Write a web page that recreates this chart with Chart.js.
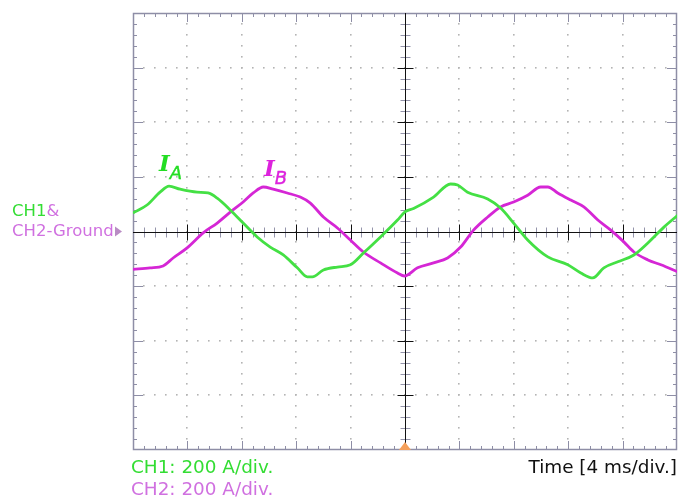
<!DOCTYPE html>
<html>
<head>
<meta charset="utf-8">
<script src="https://cdn.jsdelivr.net/npm/chart.js@4.4.1/dist/chart.umd.min.js"></script>
<style>
  body { margin: 0; background: #fff; }
  #wrap { position: relative; width: 678px; height: 499px; overflow: hidden; }
  .lbl { position: absolute; white-space: nowrap; font-family: "DejaVu Sans", sans-serif; }
  .big { font-family: "DejaVu Serif", serif; font-weight: bold; font-style: italic; }
  .sub { font-family: "DejaVu Sans", sans-serif; font-style: oblique; font-size: 18px; vertical-align: -8px; -webkit-text-stroke: 0.4px currentColor; }
</style>
</head>
<body>
<div id="wrap">
  <canvas id="scope" width="678" height="499"></canvas>
  <div class="lbl" style="left:12px;top:203px;font-size:16.5px;line-height:16.5px;"><span style="color:#33dd33">CH1</span><span style="color:#d070e0">&amp;</span></div>
  <div class="lbl" style="left:12px;top:223px;font-size:16.5px;line-height:16.5px;color:#d070e0">CH2-Ground</div>
  <div class="lbl" style="left:131px;top:458px;font-size:18.4px;line-height:18.4px;color:#33dd33">CH1: 200 A/div.</div>
  <div class="lbl" style="left:131px;top:480px;font-size:18.4px;line-height:18.4px;color:#d070e0">CH2: 200 A/div.</div>
  <div class="lbl" style="right:1px;top:458px;font-size:18.4px;line-height:18.4px;color:#111">Time [4 ms/div.]</div>
  <div class="lbl" style="left:159px;top:151px;font-size:23px;line-height:23px;color:#22dd22"><span class="big">I</span><span class="sub">A</span></div>
  <div class="lbl" style="left:264px;top:156px;font-size:23px;line-height:23px;color:#dd22dd"><span class="big">I</span><span class="sub">B</span></div>
</div>
<script>
// time in ms (4 ms/div), current in A (200 A/div)
const timeA = [0, 1.03, 1.99, 2.65, 3.46, 4.71, 5.52, 6.19, 7.15, 8.10, 9.13, 10.09, 11.05, 12.08, 12.82, 13.19, 14.00, 15.03, 15.99, 16.94, 18.20, 19.45, 20.0, 20.63, 22.10, 23.35, 23.87, 24.60, 26.08, 27.03, 27.99, 29.02, 30.50, 31.97, 32.93, 33.81, 34.62, 35.65, 36.83, 37.86, 39.04, 40.07];
const currentA = [68, 97, 144, 166, 155, 144, 141, 122, 79, 31, -20, -57, -86, -133, -166, -166, -141, -130, -122, -79, -20, 42, 72, 84, 126, 174, 170, 144, 119, 86, 31, -31, -93, -122, -152, -170, -133, -111, -86, -42, 16, 60];

const timeB = [0, 1.25, 2.21, 2.95, 3.98, 5.16, 6.19, 7.15, 8.10, 8.84, 9.58, 10.31, 11.34, 12.30, 13.04, 14.00, 15.03, 15.98, 16.94, 18.20, 19.45, 19.96, 20.92, 22.10, 23.13, 24.09, 25.04, 26.08, 27.03, 27.99, 29.02, 29.98, 30.50, 31.23, 32.19, 33.15, 34.18, 35.13, 36.09, 36.83, 37.86, 38.82, 40.07];
const currentB = [-139, -133, -126, -97, -60, -5, 31, 71, 108, 141, 163, 155, 141, 126, 104, 53, 13, -31, -75, -115, -152, -163, -133, -115, -97, -57, 5, 53, 90, 108, 133, 163, 163, 141, 115, 90, 42, 5, -38, -75, -104, -122, -148];

const timeDiv = 4, ampDiv = 200;
const xDivs = 10, yDivs = 8, minorPerDiv = 5;

function toPoints(ts, vs) {
    return ts.map((t, i) => ({ x: t, y: vs[i] }));
}

// scope screen: dotted graticule, border ticks and the centre cross
const graticule = {
    id: 'graticule',
    beforeDatasetsDraw(chart) {
        const { ctx, chartArea: a, scales: { x, y } } = chart;
        const xMax = timeDiv * xDivs, yMax = ampDiv * yDivs / 2;
        ctx.save();

        // dots along the major lines
        ctx.fillStyle = '#b4b4b4';
        for (let i = 1; i < xDivs; i++) {
            if (i === xDivs / 2) continue;
            const px = Math.round(x.getPixelForValue(i * timeDiv));
            for (let j = 1; j < yDivs * minorPerDiv; j++) {
                const py = Math.round(y.getPixelForValue(-yMax + j * ampDiv / minorPerDiv));
                ctx.fillRect(px - 1, py - 1, 1.6, 1.6);
            }
        }
        for (let j = 1; j < yDivs; j++) {
            if (j === yDivs / 2) continue;
            const py = Math.round(y.getPixelForValue(-yMax + j * ampDiv));
            for (let i = 1; i < xDivs * minorPerDiv; i++) {
                const px = Math.round(x.getPixelForValue(i * timeDiv / minorPerDiv));
                ctx.fillRect(px - 1, py - 1, 1.6, 1.6);
            }
        }

        // border
        ctx.strokeStyle = '#8e8ea6';
        ctx.lineWidth = 1.5;
        ctx.strokeRect(a.left + 0.5, a.top + 0.5, a.right - a.left - 1, a.bottom - a.top - 1);

        // border ticks
        ctx.lineWidth = 1;
        ctx.beginPath();
        for (let i = 1; i < xDivs * minorPerDiv; i++) {
            const px = Math.round(x.getPixelForValue(i * timeDiv / minorPerDiv)) + 0.5;
            const len = i % minorPerDiv === 0 ? 9 : 4;
            ctx.moveTo(px, a.top); ctx.lineTo(px, a.top + len);
            ctx.moveTo(px, a.bottom); ctx.lineTo(px, a.bottom - len);
        }
        for (let j = 1; j < yDivs * minorPerDiv; j++) {
            const py = Math.round(y.getPixelForValue(-yMax + j * ampDiv / minorPerDiv)) + 0.5;
            const len = j % minorPerDiv === 0 ? 10 : 4;
            ctx.moveTo(a.left, py); ctx.lineTo(a.left + len, py);
            ctx.moveTo(a.right, py); ctx.lineTo(a.right - len, py);
        }
        ctx.stroke();

        // centre cross
        const cx = Math.round(x.getPixelForValue(xMax / 2)) + 0.5;
        const cy = Math.round(y.getPixelForValue(0)) + 0.5;
        ctx.strokeStyle = '#9494aa';
        ctx.beginPath();
        for (let i = 1; i < xDivs * minorPerDiv; i++) {
            if (i % minorPerDiv === 0) continue;
            const px = Math.round(x.getPixelForValue(i * timeDiv / minorPerDiv)) + 0.5;
            ctx.moveTo(px, cy - 5); ctx.lineTo(px, cy + 5);
        }
        for (let j = 1; j < yDivs * minorPerDiv; j++) {
            if (j % minorPerDiv === 0) continue;
            const py = Math.round(y.getPixelForValue(-yMax + j * ampDiv / minorPerDiv)) + 0.5;
            ctx.moveTo(cx - 5, py); ctx.lineTo(cx + 5, py);
        }
        ctx.stroke();

        ctx.strokeStyle = '#111';
        ctx.beginPath();
        ctx.moveTo(a.left, cy); ctx.lineTo(a.right, cy);
        ctx.moveTo(cx, a.top); ctx.lineTo(cx, a.bottom);
        for (let i = 1; i < xDivs; i++) {
            const px = Math.round(x.getPixelForValue(i * timeDiv)) + 0.5;
            ctx.moveTo(px, cy - 8); ctx.lineTo(px, cy + 8);
        }
        for (let j = 1; j < yDivs; j++) {
            const py = Math.round(y.getPixelForValue(-yMax + j * ampDiv)) + 0.5;
            ctx.moveTo(cx - 8, py); ctx.lineTo(cx + 8, py);
        }
        ctx.stroke();
        ctx.restore();
    },
    afterDraw(chart) {
        const { ctx, chartArea: a, scales: { x, y } } = chart;
        ctx.save();
        // ground marker on the left
        const gy = y.getPixelForValue(0);
        ctx.fillStyle = '#b98cc4';
        ctx.beginPath();
        ctx.moveTo(a.left - 18, gy - 5); ctx.lineTo(a.left - 11, gy); ctx.lineTo(a.left - 18, gy + 5);
        ctx.closePath(); ctx.fill();
        // trigger marker at the bottom
        const tx = x.getPixelForValue(timeDiv * xDivs / 2);
        ctx.fillStyle = '#f5a05a';
        ctx.beginPath();
        ctx.moveTo(tx - 6, a.bottom); ctx.lineTo(tx, a.bottom - 8); ctx.lineTo(tx + 6, a.bottom);
        ctx.closePath(); ctx.fill();
        ctx.restore();
    }
};

const ctx = document.getElementById('scope').getContext('2d');
const scopeChart = new Chart(ctx, {
    type: 'line',
    data: {
        datasets: [{
            label: 'IA',
            data: toPoints(timeA, currentA),
            borderColor: '#44e044',
            borderWidth: 2.8,
            cubicInterpolationMode: 'monotone',
            pointRadius: 0
        }, {
            label: 'IB',
            data: toPoints(timeB, currentB),
            borderColor: '#d526d5',
            borderWidth: 2.8,
            cubicInterpolationMode: 'monotone',
            pointRadius: 0
        }]
    },
    options: {
        responsive: false,
        animation: false,
        layout: { padding: { left: 133, top: 13, right: 1, bottom: 49 } },
        scales: {
            x: { type: 'linear', min: 0, max: timeDiv * xDivs, display: false },
            y: { min: -ampDiv * yDivs / 2, max: ampDiv * yDivs / 2, display: false }
        },
        plugins: {
            legend: { display: false },
            tooltip: { enabled: false }
        }
    },
    plugins: [graticule]
});
</script>
</body>
</html>
